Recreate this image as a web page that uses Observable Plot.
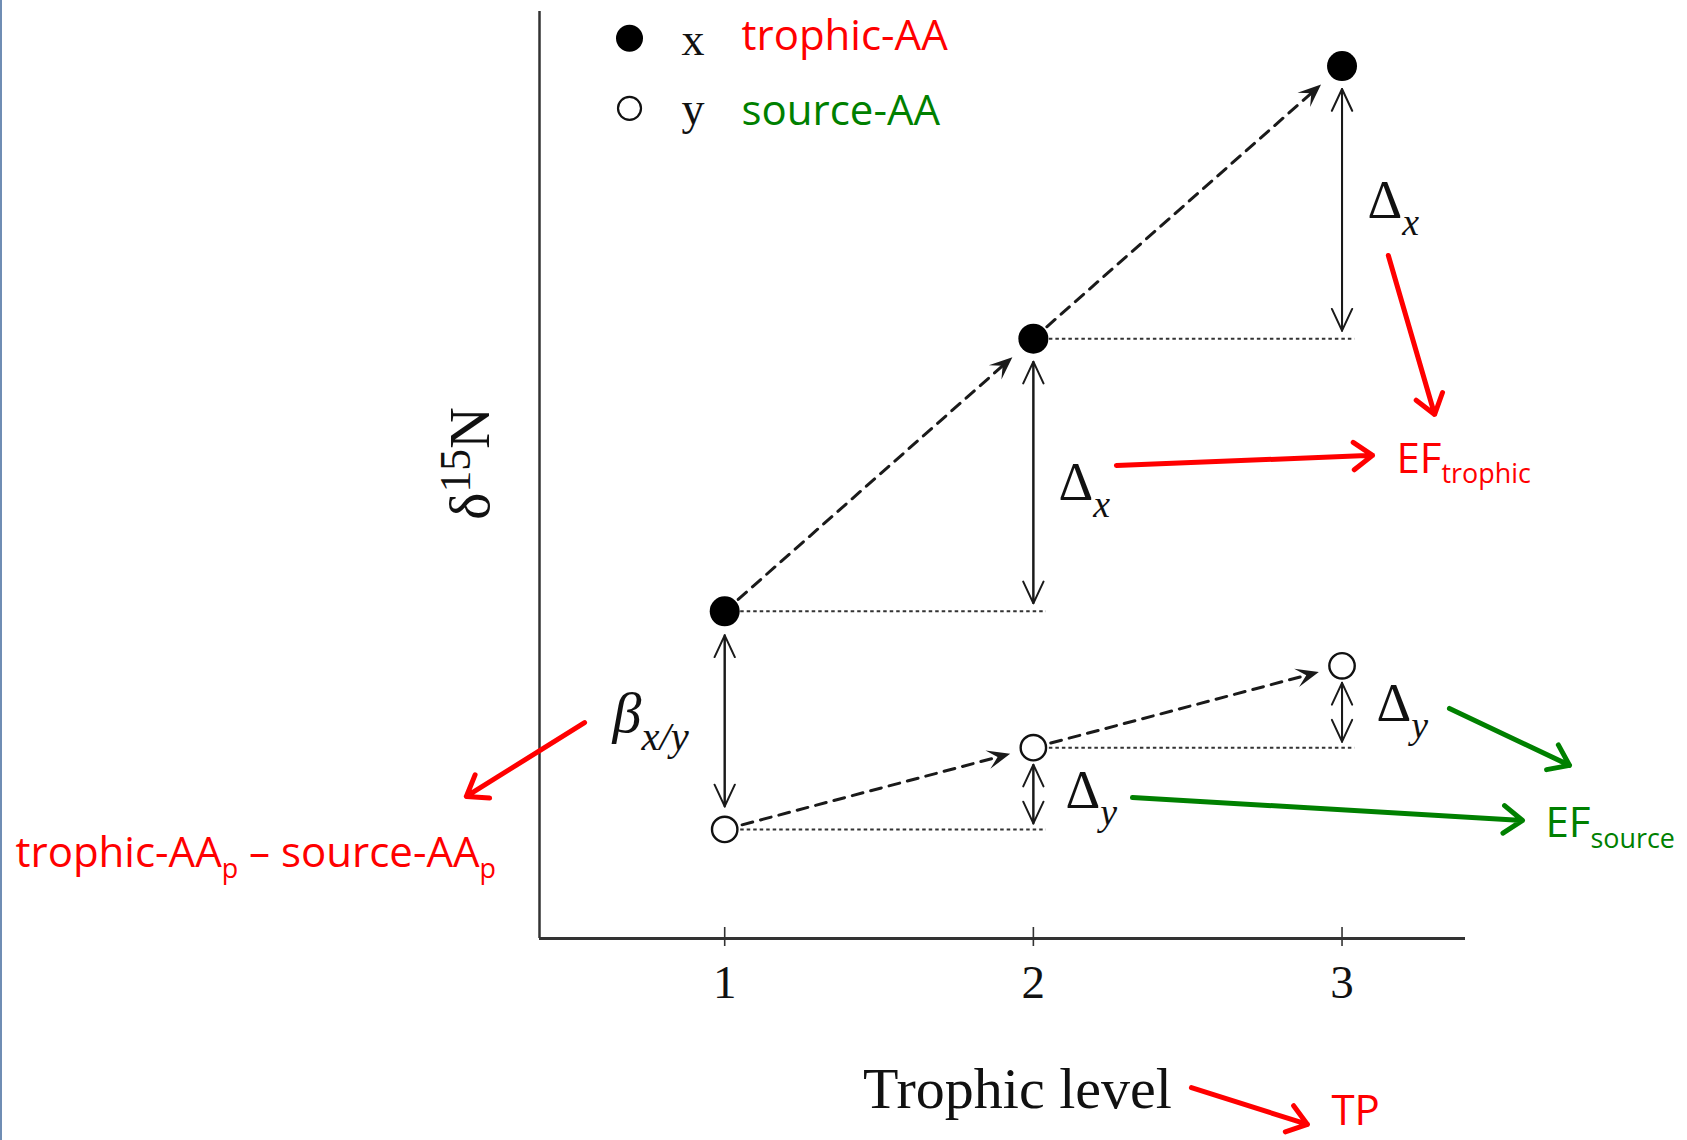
<!DOCTYPE html>
<html><head><meta charset="utf-8">
<script src="https://cdn.jsdelivr.net/npm/d3@7"></script>
<script src="https://cdn.jsdelivr.net/npm/@observablehq/plot@0.6"></script>
<style>
html,body{margin:0;padding:0;background:#fff;overflow:hidden;}
#wrap{position:relative;width:1687px;height:1140px;}
#edge{position:absolute;left:0;top:0;width:2px;height:1140px;background:#6f8db4;}
svg{display:block;}
</style></head><body><div id="wrap"><div id="edge"></div></div>
<script>
// ---------------- data ----------------
const levels = [1, 2, 3];                 // trophic level
const trophicAA = [12, 22, 32];           // δ15N of trophic amino acid (x)
const sourceAA = [4, 7, 10];              // δ15N of source amino acid (y)
const xTicks = [1, 2, 3];
const xLabel = "Trophic level";
const yLabel = "δ^{15}N";
const legendSymbols = ["x", "y"];
const legendNames = ["trophic-AA", "source-AA"];

// ---------------- annotation layout (data units) ----------------
const greekLabels = [
  {t: "Δ_{x}", x: 3.0825, y: 26.41},
  {t: "Δ_{x}", x: 2.0814, y: 16.07},
  {t: "Δ_{y}", x: 3.1116, y: 7.96},
  {t: "Δ_{y}", x: 2.1041, y: 4.77}
];
const betaLabel = [{t: "β_{x/y}", x: 0.6365, y: 7.56}];
const redLabels = [
  {t: "EF_{trophic}", x: 3.1765, y: 17.09},
  {t: "trophic-AA_{p} – source-AA_{p}", x: -1.2976, y: 2.605},
  {t: "TP", x: 2.9658, y: -6.85}
];
const greenLabels = [{t: "EF_{source}", x: 3.6592, y: 3.705}];
const redArrows = [
  {x1: 3.150, y1: 25.05, x2: 3.300, y2: 19.22},
  {x1: 2.269, y1: 17.35, x2: 3.099, y2: 17.72},
  {x1: 0.546, y1: 7.92, x2: 0.163, y2: 5.21},
  {x1: 2.512, y1: -5.47, x2: 2.888, y2: -6.82}
];
const greenArrows = [
  {x1: 3.348, y1: 8.44, x2: 3.737, y2: 6.35},
  {x1: 2.321, y1: 5.17, x2: 3.585, y2: 4.33}
];
const legendPos = [{x: 0.6916, y: 33.02}, {x: 0.6916, y: 30.45}];
const legendSymPos = [{x: 0.860, y: 32.39}, {x: 0.860, y: 29.86}];
const legendNamePos = [{x: 1.0544, y: 32.58}, {x: 1.0544, y: 29.82}];
const xLabelPos = {x: 1.9486, y: -6.20};
const yLabelPos = {x: 0.2348, y: 17.42};

// ---------------- layout ----------------
const W = 1687, H = 1140;
const M = {top: 11, right: 222, bottom: 202, left: 539};
const X_DOMAIN = [0.4, 3.4], Y_DOMAIN = [0, 34];
const kx = (W - M.left - M.right) / (X_DOMAIN[1] - X_DOMAIN[0]);
const ky = (H - M.top - M.bottom) / (Y_DOMAIN[1] - Y_DOMAIN[0]);
const angleOf = d => Math.atan2(-(d.y2 - d.y1) * ky, (d.x2 - d.x1) * kx) * 180 / Math.PI;

const SERIF = "Liberation Serif, Times New Roman, serif";
const SANS = "Open Sans, Noto Sans, sans-serif";
const INK = "#1a1a1a";
const RED = "#ff0000", GREEN = "#008000";

// derived geometry from the series
const segs = vals => d3.range(vals.length - 1).map(i => ({x1: levels[i], y1: vals[i], x2: levels[i + 1], y2: vals[i + 1]}));
const trophicSegs = segs(trophicAA), sourceSegs = segs(sourceAA);
const guides = vals => d3.range(vals.length - 1).map(i => ({y: vals[i], x1: levels[i], x2: levels[i + 1]}));
const dxArrows = d3.range(1, levels.length).map(i => ({x: levels[i], top: trophicAA[i], bottom: trophicAA[i - 1]}));
const dyArrows = d3.range(1, levels.length).map(i => ({x: levels[i], top: sourceAA[i], bottom: sourceAA[i - 1]}));
const betaArrow = [{x: levels[0], top: trophicAA[0], bottom: sourceAA[0]}];
const pts = vals => levels.map((l, i) => ({x: l, y: vals[i]}));

function headSymbol(gap) {
  return {draw(ctx) {
    const L = 23, Wd = 9.5, N = 13;
    ctx.moveTo(-gap, 0);
    ctx.lineTo(-gap - L, -Wd);
    ctx.lineTo(-gap - N, 0);
    ctx.lineTo(-gap - L, Wd);
    ctx.closePath();
  }};
}

function dashedArrow(data, gap) {
  return [
    Plot.arrow(data, {x1: "x1", y1: "y1", x2: "x2", y2: "y2", insetStart: 18, insetEnd: gap + 11,
      headLength: 0, stroke: INK, strokeWidth: 3, strokeDasharray: "11 8"}),
    Plot.dot(data, {x: "x2", y: "y2", rotate: angleOf, symbol: headSymbol(gap), r: 10, fill: INK, stroke: "none"})
  ];
}

function doubleArrow(data, insetTop, insetBottom) {
  const o = {stroke: INK, strokeWidth: 2, headLength: 18, headAngle: 50};
  return [
    Plot.arrow(data, {x1: "x", y1: "top", x2: "x", y2: "bottom", insetStart: insetTop, insetEnd: insetBottom, ...o}),
    Plot.arrow(data, {x1: "x", y1: "bottom", x2: "x", y2: "top", insetStart: insetBottom, insetEnd: insetTop, ...o})
  ];
}

const chart = Plot.plot({
  width: W, height: H,
  marginTop: M.top, marginRight: M.right, marginBottom: M.bottom, marginLeft: M.left,
  x: {domain: X_DOMAIN},
  y: {domain: Y_DOMAIN, axis: null},
  style: {background: "white", overflow: "visible"},
  marks: [
    // axes
    Plot.ruleY([Y_DOMAIN[0]], {stroke: "#333", strokeWidth: 3}),
    Plot.ruleX([X_DOMAIN[0]], {stroke: "#333", strokeWidth: 2.5}),
    Plot.ruleX(xTicks, {y1: Y_DOMAIN[0], y2: Y_DOMAIN[0], insetTop: -11, insetBottom: -8, stroke: "#333", strokeWidth: 1.6}),
    Plot.axisX(xTicks, {tickSize: 0, tickPadding: 26, tickFormat: "d", fontSize: 47, fontFamily: SERIF, label: null, fill: "#111"}),
    Plot.text([xLabel], {x: xLabelPos.x, y: xLabelPos.y, text: d => d, fontSize: 58, fontFamily: SERIF,
      textAnchor: "middle", lineAnchor: "bottom", fill: "#111"}),
    Plot.text([yLabel], {x: yLabelPos.x, y: yLabelPos.y, text: d => d, fontSize: 58, fontFamily: SERIF,
      textAnchor: "middle", lineAnchor: "bottom", rotate: -90, fill: "#111"}),
    // dotted guides
    Plot.ruleY([...guides(trophicAA), ...guides(sourceAA)], {y: "y", x1: "x1", x2: "x2", insetLeft: 16, insetRight: -13,
      stroke: "#333", strokeWidth: 2, strokeDasharray: "3.5 3"}),
    // dashed progression arrows
    ...dashedArrow(trophicSegs, 28),
    ...dashedArrow(sourceSegs, 24),
    // vertical double arrows
    ...doubleArrow(dxArrows, 23, 8),
    ...doubleArrow(dyArrows, 17, 6),
    ...doubleArrow(betaArrow, 24, 23),
    // points
    Plot.dot(pts(trophicAA), {x: "x", y: "y", r: 15, fill: "#000", stroke: "none"}),
    Plot.dot(pts(sourceAA), {x: "x", y: "y", r: 12.7, fill: "#fff", stroke: "#111", strokeWidth: 2.4}),
    // legend
    Plot.dot([legendPos[0]], {x: "x", y: "y", r: 13.5, fill: "#000", stroke: "none"}),
    Plot.dot([legendPos[1]], {x: "x", y: "y", r: 11.5, fill: "#fff", stroke: "#111", strokeWidth: 2.2}),
    Plot.text(legendSymbols, {x: (d, i) => legendSymPos[i].x, y: (d, i) => legendSymPos[i].y, text: d => d,
      fontSize: 46, fontFamily: SERIF, textAnchor: "start", lineAnchor: "bottom", fill: "#111"}),
    Plot.text(legendNames, {x: (d, i) => legendNamePos[i].x, y: (d, i) => legendNamePos[i].y, text: d => d,
      fontSize: 42, fontFamily: SANS, textAnchor: "start", lineAnchor: "bottom", fill: (d, i) => i === 0 ? RED : GREEN}),
    // greek labels
    Plot.text(greekLabels, {x: "x", y: "y", text: "t", fontSize: 54, fontFamily: SERIF, textAnchor: "start", lineAnchor: "bottom", fill: "#111"}),
    Plot.text(betaLabel, {x: "x", y: "y", text: "t", fontSize: 58, fontFamily: SERIF, fontStyle: "italic", textAnchor: "start", lineAnchor: "bottom", fill: "#111"}),
    // coloured annotations
    Plot.arrow(redArrows, {x1: "x1", y1: "y1", x2: "x2", y2: "y2", stroke: RED, strokeWidth: 5, headLength: 7, headAngle: 72}),
    Plot.arrow(greenArrows, {x1: "x1", y1: "y1", x2: "x2", y2: "y2", stroke: GREEN, strokeWidth: 5, headLength: 7, headAngle: 72}),
    Plot.text(redLabels, {x: "x", y: "y", text: "t", fontSize: 42, fontFamily: SANS, textAnchor: "start", lineAnchor: "bottom", fill: RED}),
    Plot.text(greenLabels, {x: "x", y: "y", text: "t", fontSize: 42, fontFamily: SANS, textAnchor: "start", lineAnchor: "bottom", fill: GREEN})
  ]
});

document.getElementById("wrap").prepend(chart);

// turn _{..} / ^{..} markup into sub/superscript tspans
function richify(svg) {
  const NS = "http://www.w3.org/2000/svg";
  svg.querySelectorAll("text").forEach(t => {
    const s = t.textContent;
    if (!/[_^]\{/.test(s)) return;
    const ff = getComputedStyle(t).fontFamily;
    const serif = /serif/i.test(ff) && !/Sans/.test(ff);
    const subScale = serif ? 0.7 : 0.64, subShift = serif ? 0.3 : 0.24;
    const supScale = 0.75, supShift = -0.32;
    t.textContent = "";
    let shift = 0;
    const re = /([_^])\{([^}]*)\}|([^_^]+)/g;
    let m;
    while ((m = re.exec(s))) {
      const ts = document.createElementNS(NS, "tspan");
      if (m[3] !== undefined) {
        if (shift) ts.setAttribute("dy", `${-shift}em`);
        shift = 0;
        ts.textContent = m[3];
      } else {
        const sub = m[1] === "_";
        const sc = sub ? subScale : supScale, k = sub ? subShift : supShift;
        ts.setAttribute("font-size", `${sc}em`);
        ts.setAttribute("dy", `${(k - shift) / sc}em`);
        if (sub && serif) ts.setAttribute("font-style", "italic");
        shift = k;
        ts.textContent = m[2];
      }
      t.appendChild(ts);
    }
  });
}
richify(chart);
</script>
</body></html>
